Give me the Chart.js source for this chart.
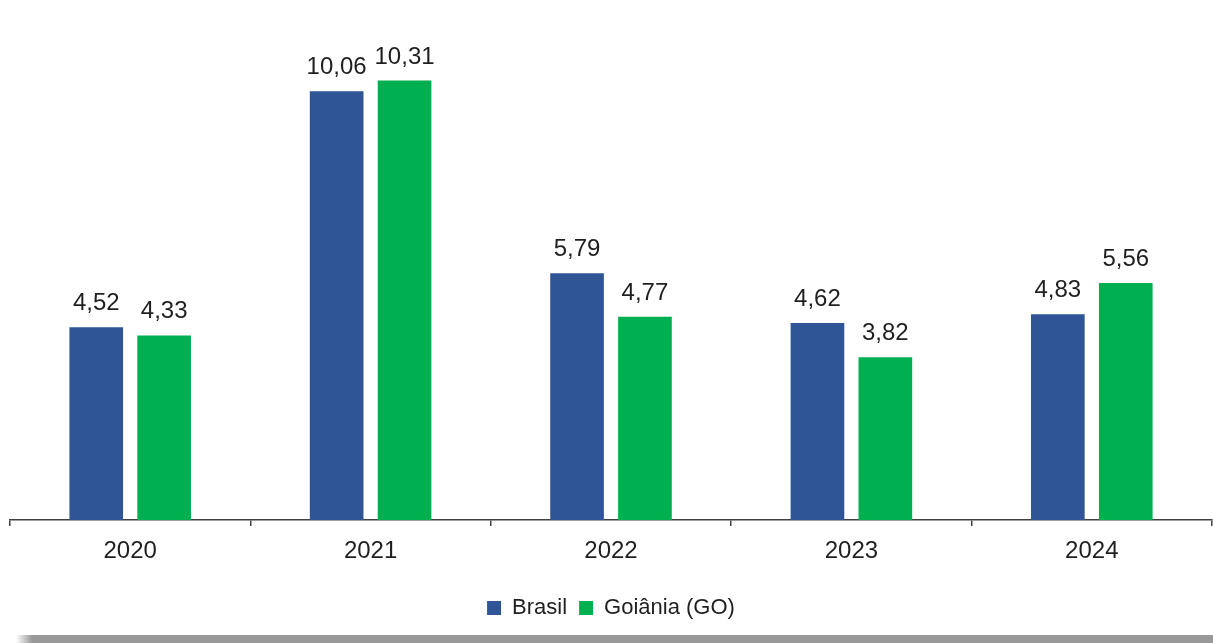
<!DOCTYPE html>
<html lang="pt-BR">
<head>
<meta charset="utf-8">
<title>Brasil x Goiânia (GO)</title>
<script src="https://cdn.jsdelivr.net/npm/chart.js@4.4.1/dist/chart.umd.min.js"></script>
<style>
    html, body { margin: 0; padding: 0; background: #fff; }
    #wrap { position: relative; width: 1213px; height: 643px; overflow: hidden; }
    #chart-box { position: absolute; left: 0; top: 0; width: 1213px; height: 635px; }
    #shade {
        position: absolute; left: 16px; top: 635px; width: 1197px; height: 8px;
        background: linear-gradient(to right, rgba(153,153,153,0) 0px, #999 16px, #999 100%);
    }
</style>
</head>
<body>
<div id="wrap">
    <div id="chart-box"><canvas id="barChart"></canvas></div>
    <div id="shade"></div>
</div>
<script>
const years = ['2020', '2021', '2022', '2023', '2024'];
const brasil = [4.52, 10.06, 5.79, 4.62, 4.83];
const goiania = [4.33, 10.31, 4.77, 3.82, 5.56];

const FONT = '"Liberation Sans", Arial, sans-serif';
const TEXT = '#1f1f1f';

// writes each bar's value (pt-BR decimal comma) above it
const valueLabels = {
    id: 'valueLabels',
    afterDatasetsDraw(chart) {
        const ctx = chart.ctx;
        ctx.save();
        ctx.font = '24px ' + FONT;
        ctx.fillStyle = TEXT;
        ctx.textAlign = 'center';
        ctx.textBaseline = 'alphabetic';
        chart.data.datasets.forEach((ds, i) => {
            chart.getDatasetMeta(i).data.forEach((bar, j) => {
                const txt = ds.data[j].toFixed(2).replace('.', ',');
                ctx.fillText(txt, bar.x, bar.y - 17);
            });
        });
        ctx.restore();
    }
};

new Chart(document.getElementById('barChart'), {
    type: 'bar',
    data: {
        labels: years,
        datasets: [
            { label: 'Brasil', data: brasil, backgroundColor: '#2F5597' },
            { label: 'Goiânia (GO)', data: goiania, backgroundColor: '#00B050' }
        ]
    },
    options: {
        responsive: true,
        maintainAspectRatio: false,
        animation: false,
        categoryPercentage: 0.565,
        barPercentage: 0.79,
        layout: { padding: { left: 10, right: 1, top: 6, bottom: 6 } },
        scales: {
            y: {
                display: false,
                min: 0,
                max: 12.06
            },
            x: {
                grid: {
                    offset: true,
                    drawOnChartArea: false,
                    drawTicks: true,
                    tickLength: 6,
                    color: '#404040',
                    lineWidth: 1.5
                },
                border: { color: '#404040', width: 1.5 },
                ticks: {
                    color: TEXT,
                    padding: 11,
                    font: { family: FONT, size: 24 }
                },
                afterFit(scale) { scale.height = 65; }
            }
        },
        plugins: {
            legend: {
                position: 'bottom',
                labels: {
                    color: TEXT,
                    boxWidth: 14,
                    boxHeight: 14,
                    padding: 12,
                    font: { family: FONT, size: 22 }
                }
            },
            tooltip: { enabled: false }
        }
    },
    plugins: [valueLabels]
});
</script>
</body>
</html>
